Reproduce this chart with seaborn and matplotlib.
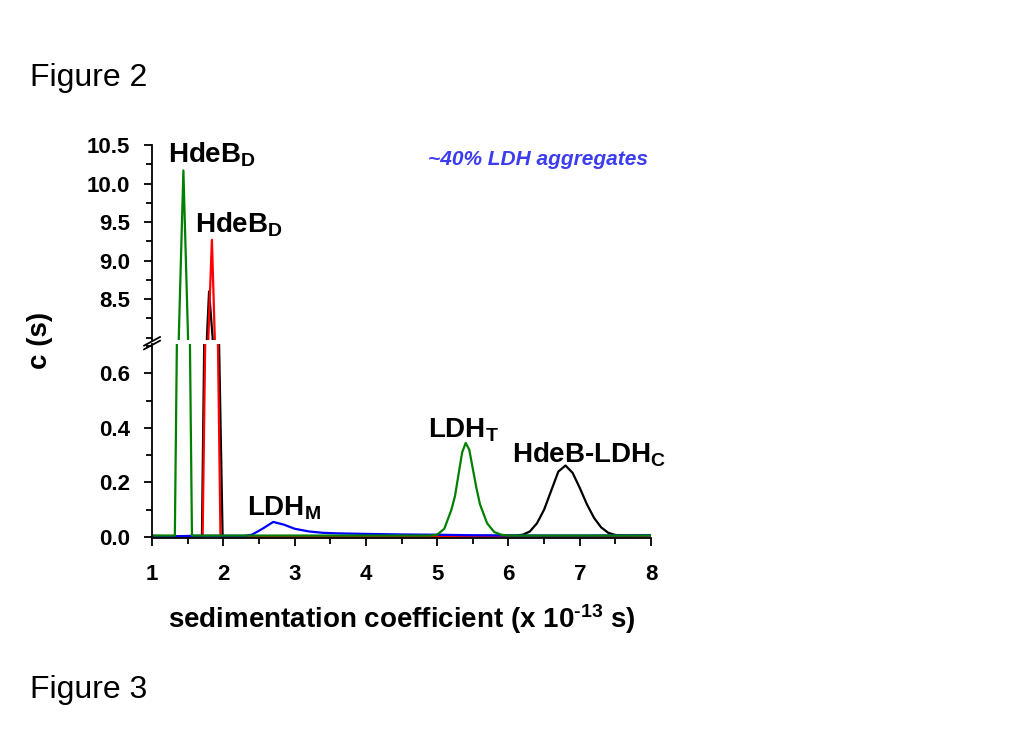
import numpy as np
import pandas as pd
import matplotlib.pyplot as plt
import seaborn as sns
from matplotlib.ticker import MultipleLocator

sns.set_style("ticks")
plt.rcParams['font.family'] = ['Liberation Sans', 'DejaVu Sans']
plt.rcParams['mathtext.fontset'] = 'custom'
plt.rcParams['mathtext.rm'] = 'Liberation Sans'
plt.rcParams['mathtext.bf'] = 'Liberation Sans:bold'
plt.rcParams['mathtext.it'] = 'Liberation Sans:italic'
for k in ['text.color', 'axes.labelcolor', 'xtick.color', 'ytick.color', 'axes.edgecolor']:
    plt.rcParams[k] = 'black'

# c(s) traces
green_s = [1.0, 1.32, 1.36, 1.375, 1.44, 1.505, 1.52, 1.56, 2.0, 3.0, 4.0, 4.9, 5.0, 5.1,
           5.2, 5.25, 5.3, 5.35, 5.4, 5.45, 5.5, 5.55, 5.6, 5.7, 5.8, 5.9, 6.0, 7.0, 8.0]
green_c = [0.005, 0.005, 1.0, 8.0, 10.17, 8.0, 1.0, 0.005, 0.005, 0.005, 0.005, 0.005,
           0.008, 0.03, 0.10, 0.15, 0.23, 0.31, 0.345, 0.32, 0.25, 0.18, 0.12, 0.05, 0.018,
           0.008, 0.005, 0.005, 0.005]

red_s = [1.0, 1.71, 1.76, 1.79, 1.84, 1.88, 1.91, 1.96, 3.0, 5.0, 6.0, 8.0]
red_c = [0.002, 0.002, 1.0, 8.0, 9.27, 8.0, 1.0, 0.002, 0.002, 0.002, 0.002, 0.002]

black_s = [1.0, 1.70, 1.745, 1.77, 1.80, 1.85, 1.92, 1.99, 3.0, 5.0, 6.1, 6.2, 6.3, 6.4,
           6.5, 6.6, 6.7, 6.8, 6.9, 7.0, 7.1, 7.2, 7.3, 7.4, 7.5, 7.6, 8.0]
black_c = [0.003, 0.003, 1.0, 8.0, 8.6, 8.0, 1.0, 0.003, 0.003, 0.003, 0.005, 0.008, 0.02,
           0.05, 0.10, 0.17, 0.24, 0.262, 0.235, 0.18, 0.12, 0.07, 0.035, 0.015, 0.007,
           0.005, 0.005]

blue_s = [1.0, 1.32, 1.56, 2.0, 2.3, 2.4, 2.55, 2.7, 2.85, 3.0, 3.2, 3.4, 3.6, 4.0, 4.5,
          5.0, 5.5, 6.0, 7.0, 8.0]
blue_c = [0.004, 0.002, 0.004, 0.004, 0.004, 0.008, 0.03, 0.055, 0.045, 0.03, 0.02, 0.015,
          0.013, 0.011, 0.009, 0.008, 0.006, 0.005, 0.005, 0.006]

traces = [(black_s, black_c, 'black'), (red_s, red_c, '#ff0000'),
          (blue_s, blue_c, '#0000ff'), (green_s, green_c, '#008000')]

fig = plt.figure(figsize=(10.19, 7.38), dpi=100)
left, width = 0.1492, 0.4897
ax_top = fig.add_axes([left, 0.5393, width, 0.2642])
ax_bot = fig.add_axes([left, 0.2710, width, 0.2629])

for ax in (ax_top, ax_bot):
    for s, c, col in traces:
        sns.lineplot(x=s, y=c, color=col, lw=1.6, ax=ax, sort=False, estimator=None)
    ax.set_xlim(1, 8)
    ax.spines['top'].set_visible(False)
    ax.spines['right'].set_visible(False)
    ax.spines['left'].set_linewidth(1.3)
    ax.spines['bottom'].set_linewidth(1.3)
    ax.tick_params(axis='both', which='major', direction='out', length=6, width=1.3)
    ax.tick_params(axis='both', which='minor', direction='out', length=4, width=1.3)
    ax.tick_params(axis='y', which='major', pad=10)

ax_top.set_ylim(7.97, 10.5)
ax_top.set_yticks([8.5, 9.0, 9.5, 10.0, 10.5])
ax_top.set_yticklabels(['8.5', '9.0', '9.5', '10.0', '10.5'], fontweight='bold', fontsize=16)
ax_top.yaxis.set_minor_locator(MultipleLocator(0.25))
ax_top.spines['bottom'].set_visible(False)
ax_top.tick_params(axis='x', which='both', bottom=False, labelbottom=False)

ax_bot.set_ylim(-0.004, 0.708)
ax_bot.set_yticks([0.0, 0.2, 0.4, 0.6])
ax_bot.set_yticklabels(['0.0', '0.2', '0.4', '0.6'], fontweight='bold', fontsize=16)
ax_bot.yaxis.set_minor_locator(MultipleLocator(0.1))
ax_bot.set_xticks(range(1, 9))
ax_bot.set_xticklabels([str(i) for i in range(1, 9)], fontweight='bold', fontsize=16)
ax_bot.xaxis.set_minor_locator(MultipleLocator(0.5))
ax_bot.tick_params(axis='x', which='major', pad=13)
ax_bot.set_xlabel('sedimentation coefficient (x 10$^{\\mathbf{\u2010}\\mathbf{13}}$ s)',
                  fontsize=20, fontweight='bold', labelpad=12)

# axis break marks
for yb in (0.5375, 0.5325):
    fig.add_artist(plt.Line2D([left - 0.008, left + 0.008], [yb - 0.006, yb + 0.006],
                              color='black', lw=1.3))

fig.text(40 / 1019, 1 - 340 / 738, 'c (s)', rotation=90, fontsize=20, fontweight='bold',
         ha='center', va='center')

# peak labels
ax_top.text(1.23, 10.27, r'HdeB$_\mathbf{D}$', fontsize=20, fontweight='bold', va='baseline')
ax_top.text(1.60, 9.37, r'HdeB$_\mathbf{D}$', fontsize=20, fontweight='bold', va='baseline')
ax_top.text(4.87, 10.31, '~40% LDH aggregates', fontsize=15, fontweight='bold',
            style='italic', color='#3c3cf0', va='center')
ax_bot.text(2.33, 0.080, r'LDH$_\mathbf{M}$', fontsize=20, fontweight='bold', va='baseline')
ax_bot.text(4.87, 0.366, r'LDH$_\mathbf{T}$', fontsize=20, fontweight='bold', va='baseline')
ax_bot.text(6.05, 0.274, r'HdeB-LDH$_\mathbf{C}$', fontsize=20, fontweight='bold',
            va='baseline')

fig.text(30 / 1019, 1 - 78 / 738, 'Figure 2', fontsize=23, va='center')
fig.text(30 / 1019, 1 - 690 / 738, 'Figure 3', fontsize=23, va='center')

fig.savefig('out.png', dpi=100, facecolor='white')
